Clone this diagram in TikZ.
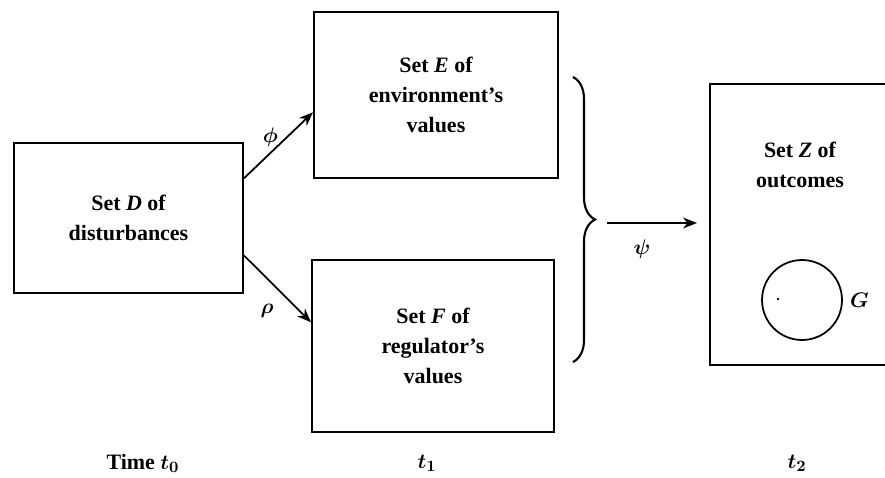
\documentclass[tikz,border=0pt]{standalone}
\usepackage{fontspec}
\setmainfont{Liberation Serif}
\usetikzlibrary{positioning,arrows.meta,decorations.pathreplacing}

\begin{document}
\begin{tikzpicture}
  [x=0.02cm,y=-0.02cm,
   set node/.style={draw,line width=1.2pt,align=center,
     font=\bfseries\boldmath\fontsize{12.5}{17}\selectfont},
   lbl/.style={font=\bfseries\boldmath\fontsize{12.5}{14}\selectfont},
   map/.style={-{Stealth[length=2.8mm,width=2.2mm]},line width=1pt}]
  \clip (0,0) rectangle (885,477);
  \node[set node,minimum width=4.58cm,minimum height=3cm] (D) at (128.5,218) {Set \textit{D} of\\disturbances};
  \node[set node,minimum width=4.88cm,minimum height=3.32cm] (E) at (436,95) {Set \textit{E} of\\environment's\\values};
  \node[set node,minimum width=4.84cm,minimum height=3.44cm] (F) at (433,346) {Set \textit{F} of\\regulator's\\values};
  \node[set node,minimum width=4cm,minimum height=5.62cm] (Z) at (810,224.5) {};
  \node[lbl,align=center,font=\bfseries\fontsize{12.5}{17}\selectfont] (Zt) at (800,165) {Set \textit{Z} of\\outcomes};
  \node[draw,circle,line width=1pt,minimum size=1.6cm] (G) at (802,300) {};
  \node[lbl,right=0.02cm of G] (Gl) {$G$};
  \fill (778,299) circle (0.8pt);

  % brace collecting E and F
  \coordinate (Btop) at (573,77);
  \coordinate (Bbot) at (573,362);
  \coordinate (Btip) at (595,223);
  \draw[decorate,decoration={brace,amplitude=0.44cm},line width=1.2pt] (Btop) -- (Bbot);

  \draw[map] (D.19) -- node[lbl,xshift=-0.16cm,yshift=0.16cm] {$\phi$} (E.188);
  \draw[map] (D.-18) -- node[lbl,xshift=-0.21cm,yshift=-0.43cm] {$\rho$} (F.169);
  \draw[map,shorten <=0.24cm,shorten >=0.24cm] (Btip) -- node[lbl,below=0.2cm,xshift=-0.2cm] {$\psi$} (Btip -| Z.west);

  \node[lbl] (t0) at (143,463) {Time $t_0$};
  \node[lbl] (t1) at (427,463) {$t_1$};
  \node[lbl] (t2) at (797,463) {$t_2$};
\end{tikzpicture}
\end{document}
